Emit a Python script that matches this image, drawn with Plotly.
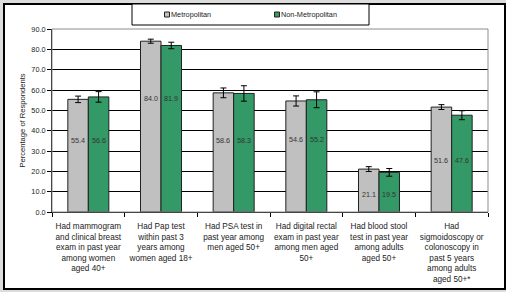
import plotly.graph_objects as go

# ---- data ----
categories = [
    "Had mammogram<br>and clinical breast<br>exam in past year<br>among women<br>aged 40+",
    "Had Pap test<br>within past 3<br>years among<br>women aged 18+",
    "Had PSA test in<br>past year among<br>men aged 50+",
    "Had digital rectal<br>exam in past year<br>among men aged<br>50+",
    "Had blood stool<br>test in past year<br>among adults<br>aged 50+",
    "Had<br>sigmoidoscopy or<br>colonoscopy in<br>past 5 years<br>among adults<br>aged 50+*",
]
series_names = ["Metropolitan", "Non-Metropolitan"]
metro_values = [55.4, 84.0, 58.6, 54.6, 21.1, 51.6]
nonmetro_values = [56.6, 81.9, 58.3, 55.2, 19.5, 47.6]
metro_err = [1.6, 1.0, 2.4, 2.5, 1.2, 1.2]
nonmetro_err = [2.6, 1.6, 3.8, 3.9, 1.9, 2.2]
y_ticks = [0, 10, 20, 30, 40, 50, 60, 70, 80, 90]

# ---- styling ----
W, H = 506, 292
ML, MR, MT, MB = 52, 18, 29, 80
PW, PH = W - ML - MR, H - MT - MB
FONT = "Arial, Liberation Sans, sans-serif"
GRAY, GREEN = "#c0c0c0", "#339966"
label_heights = [35.4, 55.6, 35.0, 35.9, 8.4, 25.1]  # where the value labels sit (data units)


def px(x):
    return (x - ML) / PW


def py(y):
    return (H - MB - y) / PH


fig = go.Figure()
for name, vals, errs, col in [
    (series_names[0], metro_values, metro_err, GRAY),
    (series_names[1], nonmetro_values, nonmetro_err, GREEN),
]:
    fig.add_trace(go.Bar(
        x=categories, y=vals, name=name,
        marker=dict(color=col, line=dict(color="#222222", width=1)),
        error_y=dict(type="data", array=errs, color="black", thickness=1, width=3),
        showlegend=False,
    ))

annotations = []
for i, cat in enumerate(categories):
    for vals, shift in [(metro_values, -10.3), (nonmetro_values, 10.3)]:
        annotations.append(dict(
            x=cat, y=label_heights[i], xref="x", yref="y", xshift=shift,
            text=f"{vals[i]:.1f}", showarrow=False,
            font=dict(family=FONT, size=7.2, color="#333333"),
        ))

# custom legend
for name, col, sx in [(series_names[0], GRAY, 164.5), (series_names[1], GREEN, 274.5)]:
    annotations.append(dict(
        x=px(sx + 4), y=py(14.5), xref="paper", yref="paper", xanchor="left",
        yanchor="middle", text=name, showarrow=False,
        font=dict(family=FONT, size=7.3, color="#222222"),
    ))

shapes = [
    # outer white frame
    dict(type="rect", xref="paper", yref="paper", x0=px(4), x1=px(505), y0=py(289), y1=py(4),
         fillcolor="white", line=dict(color="black", width=2), layer="below"),
    # plot area frame (gray)
    dict(type="rect", xref="paper", yref="paper", x0=0, x1=1, y0=0, y1=1,
         line=dict(color="#8c8c8c", width=1), layer="above"),
    # legend box
    dict(type="rect", xref="paper", yref="paper", x0=px(132), x1=px(369), y0=py(25), y1=py(4),
         fillcolor="white", line=dict(color="black", width=1)),
]
for col, sx in [(GRAY, 164.5), (GREEN, 274.5)]:
    shapes.append(dict(type="rect", xref="paper", yref="paper",
                       x0=px(sx), x1=px(sx + 5), y0=py(17), y1=py(12),
                       fillcolor=col, line=dict(color="#222222", width=1)))

fig.update_layout(
    width=W, height=H,
    margin=dict(l=ML, r=MR, t=MT, b=MB, pad=0, autoexpand=False),
    paper_bgcolor="#dcdcdc", plot_bgcolor="rgba(0,0,0,0)",
    barmode="group", bargap=0.436, bargroupgap=0,
    font=dict(family=FONT, size=8, color="#222222"),
    annotations=annotations, shapes=shapes,
    hovermode=False,
    xaxis=dict(
        showline=True, linecolor="black", linewidth=1, automargin=False,
        ticks="outside", tickson="boundaries", ticklen=4, tickcolor="black",
        tickangle=0,
        tickfont=dict(family=FONT, size=8.2, color="#222222"),
        ticklabelstandoff=6, showgrid=False,
    ),
    yaxis=dict(
        range=[0, 90], tickmode="array", tickvals=y_ticks, tickformat=".1f",
        showline=True, linecolor="black", linewidth=1, automargin=False,
        ticks="outside", ticklen=4, tickcolor="black",
        tickfont=dict(family=FONT, size=7.3, color="#222222"),
        showgrid=True, gridcolor="black", gridwidth=1, zeroline=False,
        title=dict(text="Percentage of Respondents", standoff=4,
                   font=dict(family=FONT, size=7.6, color="#222222")),
    ),
)

fig.write_html(
    "out.html",
    config={"displayModeBar": False},
    post_script="document.body.style.margin='0';document.body.style.overflow='hidden';",
)
